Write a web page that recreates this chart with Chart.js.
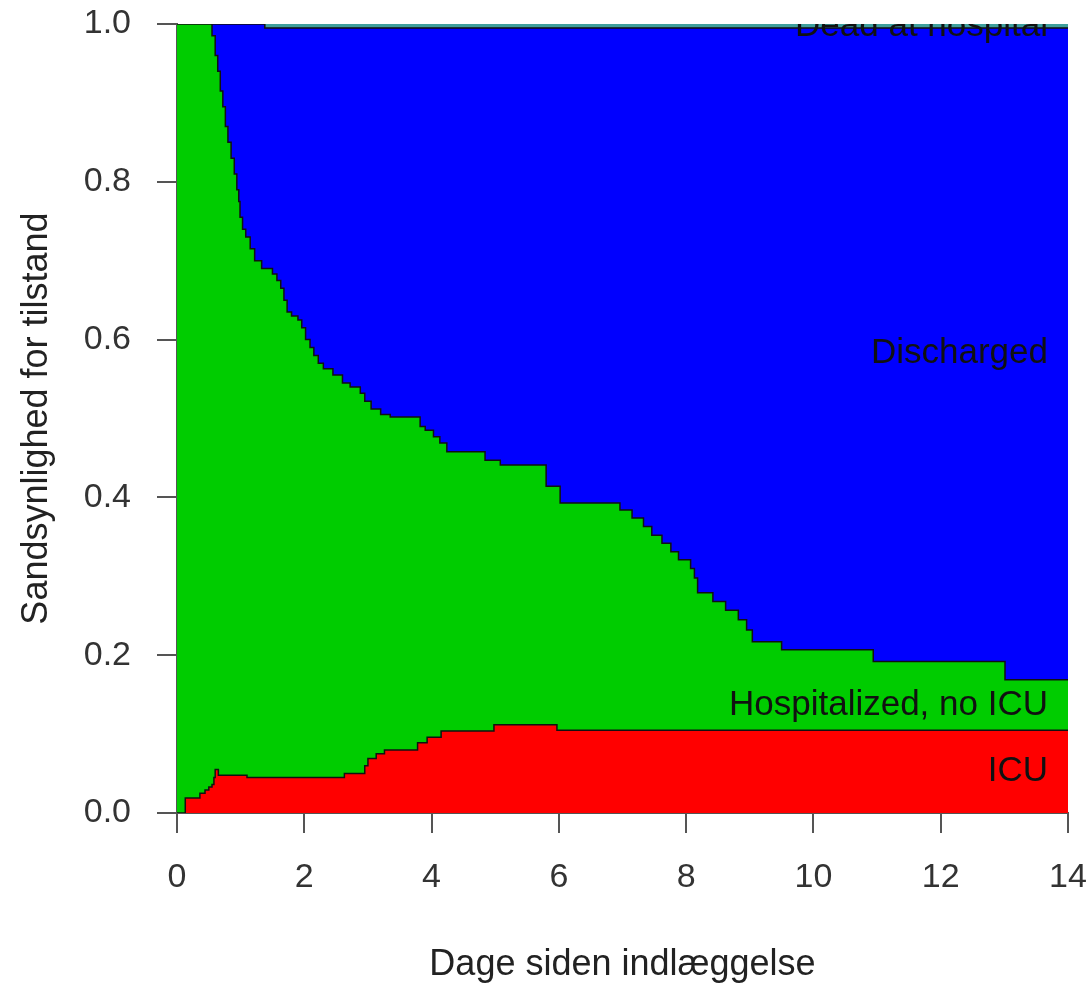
<!DOCTYPE html>
<html>
<head>
<meta charset="utf-8">
<script src="https://cdn.jsdelivr.net/npm/chart.js@4.4.0/dist/chart.umd.min.js"></script>
<style>
  html, body { margin: 0; padding: 0; background: #fff; }
  #wrap { width: 1091px; height: 983px; }
</style>
</head>
<body>
<div id="wrap"><canvas id="stateChart" width="1091" height="983"></canvas></div>
<script>
// ── Data ──────────────────────────────────────────
var stateNames = ['ICU', 'Hospitalized, no ICU', 'Discharged', 'Dead at hospital'];

// upper edge of the ICU band
var icuDays = [0, 0.13, 0.36, 0.44, 0.50, 0.55, 0.58, 0.60, 0.65, 1.10, 2.63, 2.95, 3.00, 3.13, 3.26, 3.78, 3.93, 4.15, 4.98, 5.97, 14];
var icuTop  = [0, 0.019, 0.025, 0.029, 0.033, 0.036, 0.045, 0.055, 0.048, 0.045, 0.050, 0.060, 0.069, 0.075, 0.080, 0.089, 0.096, 0.104, 0.112, 0.105, 0.105];

// upper edge of ICU + hospitalized
var hospDays = [0, 0.55, 0.60, 0.64, 0.68, 0.72, 0.76, 0.80, 0.85, 0.90, 0.94, 0.97, 0.99, 1.03, 1.08, 1.15, 1.22, 1.33, 1.50, 1.57, 1.63, 1.68, 1.73, 1.80, 1.90, 1.96, 2.02, 2.09, 2.15, 2.22, 2.30, 2.45, 2.60, 2.72, 2.88, 2.95, 3.05, 3.20, 3.35, 3.82, 3.90, 4.03, 4.13, 4.24, 4.84, 5.08, 5.80, 6.02, 6.96, 7.15, 7.33, 7.46, 7.62, 7.76, 7.88, 8.07, 8.13, 8.18, 8.42, 8.62, 8.82, 8.95, 9.04, 9.50, 10.94, 13.01, 14];
var hospTop  = [1.0, 0.985, 0.96, 0.94, 0.915, 0.895, 0.87, 0.85, 0.83, 0.81, 0.79, 0.775, 0.755, 0.74, 0.73, 0.715, 0.70, 0.69, 0.683, 0.675, 0.665, 0.65, 0.635, 0.63, 0.625, 0.615, 0.60, 0.59, 0.58, 0.57, 0.563, 0.555, 0.545, 0.54, 0.532, 0.522, 0.512, 0.505, 0.502, 0.49, 0.485, 0.477, 0.469, 0.458, 0.447, 0.441, 0.414, 0.393, 0.384, 0.374, 0.363, 0.352, 0.342, 0.331, 0.321, 0.310, 0.298, 0.279, 0.268, 0.257, 0.245, 0.232, 0.217, 0.207, 0.192, 0.169, 0.169];

// upper edge of ICU + hospitalized + discharged
var dischDays = [0, 1.38, 14];
var dischTop  = [1.0, 0.995, 0.995];

// top of everything
var deadDays = [0, 14];
var deadTop  = [1.0, 1.0];

var xTicks = [0, 2, 4, 6, 8, 10, 12, 14];
var yTicks = [0, 0.2, 0.4, 0.6, 0.8, 1.0];

var stateColors = ['#ff0000', '#00cc00', '#0000ff', '#3f9f9c'];

function toPoints(days, vals) {
  return days.map(function(d, i){ return { x: d, y: vals[i] }; });
}

// each band is filled down to 0; the lower bands are drawn over it
function band(label, days, vals, color, edge) {
  return {
    label: label,
    data: toPoints(days, vals),
    stepped: 'before',
    borderColor: edge || '#111',
    borderWidth: 1.5,
    backgroundColor: color,
    fill: 'origin',
    pointRadius: 0
  };
}

// ── Labels at the right edge, centred in each band ─
var lastVals = [0, icuTop[icuTop.length - 1], hospTop[hospTop.length - 1], dischTop[dischTop.length - 1], deadTop[deadTop.length - 1]];

var stateLabels = {
  id: 'stateLabels',
  afterDatasetsDraw: function(chart) {
    var ctx = chart.ctx, area = chart.chartArea, ys = chart.scales.y;
    ctx.save();
    ctx.beginPath();
    ctx.rect(area.left, area.top, area.right - area.left, area.bottom - area.top);
    ctx.clip();
    ctx.font = '35px "Liberation Sans", Arial, sans-serif';
    ctx.fillStyle = '#111';
    ctx.textAlign = 'right';
    ctx.textBaseline = 'middle';
    stateNames.forEach(function(name, i){
      var mid = (lastVals[i] + lastVals[i + 1]) / 2;
      ctx.fillText(name, area.right - 20, ys.getPixelForValue(mid));
    });
    ctx.restore();
  }
};

var fontFam = '"Liberation Sans", Arial, sans-serif';

// ── Chart ─────────────────────────────────────────
new Chart(document.getElementById('stateChart'), {
  type: 'line',
  data: {
    datasets: [
      band(stateNames[0], icuDays, icuTop, stateColors[0]),
      band(stateNames[1], hospDays, hospTop, stateColors[1]),
      band(stateNames[2], dischDays, dischTop, stateColors[2]),
      band(stateNames[3], deadDays, deadTop, stateColors[3], stateColors[3])
    ]
  },
  plugins: [stateLabels],
  options: {
    responsive: false,
    devicePixelRatio: 1,
    animation: false,
    layout: { padding: { top: 24, right: 23, left: 0, bottom: 0 } },
    plugins: {
      legend: { display: false },
      tooltip: { enabled: false }
    },
    scales: {
      x: {
        type: 'linear',
        min: 0, max: 14,
        afterFit: function(s){ s.height = 170; s.paddingLeft = 0; s.paddingRight = 0; },
        afterBuildTicks: function(s){ s.ticks = xTicks.map(function(v){ return { value: v }; }); },
        ticks: {
          color: '#333',
          padding: 24,
          font: { size: 34, family: fontFam }
        },
        grid: { drawOnChartArea: false, drawTicks: true, tickLength: 20, color: '#555', lineWidth: 2 },
        border: { display: true, color: '#555', width: 2 },
        title: {
          display: true,
          text: 'Dage siden indlæggelse',
          color: '#222',
          padding: { top: 0, bottom: 0 },
          font: { size: 36, lineHeight: 1, family: fontFam }
        }
      },
      y: {
        min: 0, max: 1,
        afterFit: function(s){ s.width = 177; s.paddingTop = 0; s.paddingBottom = 0; },
        afterBuildTicks: function(s){ s.ticks = yTicks.map(function(v){ return { value: v }; }); },
        ticks: {
          color: '#333',
          padding: 26,
          font: { size: 34, family: fontFam },
          callback: function(v){ return v.toFixed(1); }
        },
        grid: { drawOnChartArea: false, drawTicks: true, tickLength: 20, color: '#555', lineWidth: 2 },
        border: { display: true, color: '#555', width: 2 },
        title: {
          display: true,
          text: 'Sandsynlighed for tilstand',
          color: '#222',
          padding: { top: 19, bottom: 0 },
          font: { size: 36, lineHeight: 1, family: fontFam }
        }
      }
    }
  }
});
</script>
</body>
</html>
